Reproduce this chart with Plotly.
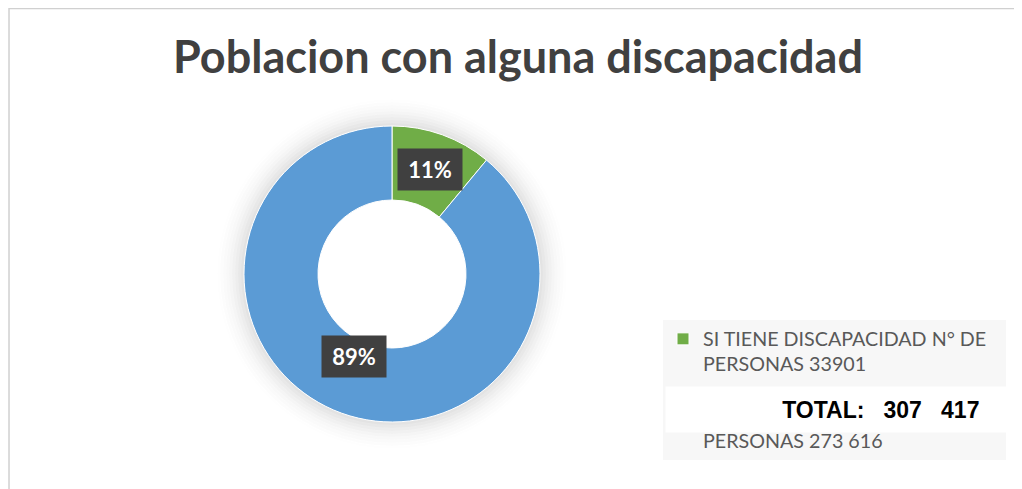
import math
import plotly.graph_objects as go

# datos
categorias = ["SI TIENE DISCAPACIDAD N° DE<br>PERSONAS 33901",
              "NO TIENE DISCAPACIDAD N° DE<br>PERSONAS 273 616"]
personas = [33901, 273616]
colores = ["#70ad47", "#5b9bd5"]
titulo = "Poblacion con alguna discapacidad"
total_txt = "TOTAL:\u00a0\u00a0\u00a0307\u00a0\u00a0\u00a0417"

# la pagina deja 8px de margen en el body
W, H = 1014, 481
OFF = 8


def fx(px):
    return (px - OFF) / W


def fy(py):
    return 1 - (py - OFF) / H


# donut: centro y radio en pixeles de la imagen
CX, CY, R = 392, 274, 148
hueco = 0.5

# el primer item lleva una linea vacia extra para separar las entradas como en Excel
etiquetas = ['<span style="font-size:19.7px">%s</span>' % c + ("<br>\u00a0" if i == 0 else "")
             for i, c in enumerate(categorias)]

fig = go.Figure()
fig.add_trace(go.Pie(
    labels=etiquetas, values=personas, sort=False, direction="clockwise",
    hole=hueco, marker=dict(colors=colores, line=dict(color="white", width=1)),
    textinfo="none", customdata=categorias,
    hovertemplate="%{customdata}<br>%{value} (%{percent})<extra></extra>",
    domain=dict(x=[fx(CX - R), fx(CX + R)], y=[fy(CY + R), fy(CY - R)]),
))

# sombra suave alrededor del anillo
for k in range(10):
    rr = R + 1.5 + 3 * k
    fig.add_shape(type="circle", xref="paper", yref="paper", layer="below",
                  x0=fx(CX - rr), x1=fx(CX + rr), y0=fy(CY + rr), y1=fy(CY - rr),
                  line=dict(color="rgba(0,0,0,%.3f)" % (0.11 * (1 - k / 10) ** 2), width=3))

# etiquetas de porcentaje (posicion calculada desde los datos)
r_mid = R * (1 + hueco) / 2
suma = sum(personas)
acum = 0
for v in personas:
    ang = (acum + v / 2) / suma * 2 * math.pi
    acum += v
    fig.add_annotation(
        x=fx(CX + r_mid * math.sin(ang)), y=fy(CY - r_mid * math.cos(ang)),
        xref="paper", yref="paper",
        text="<b>%d%%</b>" % round(v / suma * 100), showarrow=False,
        font=dict(family="Lato", size=22, color="white"),
        bgcolor="#404040", width=60, height=37, borderpad=2,
    )

# cuadro blanco con el total
fig.add_annotation(
    x=fx(665), y=fy(386), xref="paper", yref="paper",
    xanchor="left", yanchor="top", showarrow=False,
    text="<b>" + total_txt + "</b>\u00a0\u00a0\u00a0\u00a0",
    font=dict(family="Liberation Sans", size=23, color="black"),
    bgcolor="white", width=338, height=43, align="right",
)

# borde del area del grafico
fig.add_shape(type="rect", xref="paper", yref="paper",
              x0=0.001, x1=1.05, y0=-0.05, y1=0.999,
              line=dict(color="#d0d0d0", width=1.5))

fig.update_layout(
    width=W, height=H, margin=dict(l=0, r=0, t=0, b=0),
    paper_bgcolor="white",
    title=dict(text="<b>" + titulo + "</b>", x=fx(518), y=fy(57),
               xanchor="center", yanchor="middle",
               font=dict(family="Lato", size=45, color="#404040")),
    legend=dict(x=fx(663), y=fy(320), xanchor="left", yanchor="top",
                bgcolor="#f7f7f7", font=dict(family="Lato", size=19, color="#595959"),
                itemwidth=30, valign="top"),
    showlegend=True,
)

fig.write_html("out.html")
